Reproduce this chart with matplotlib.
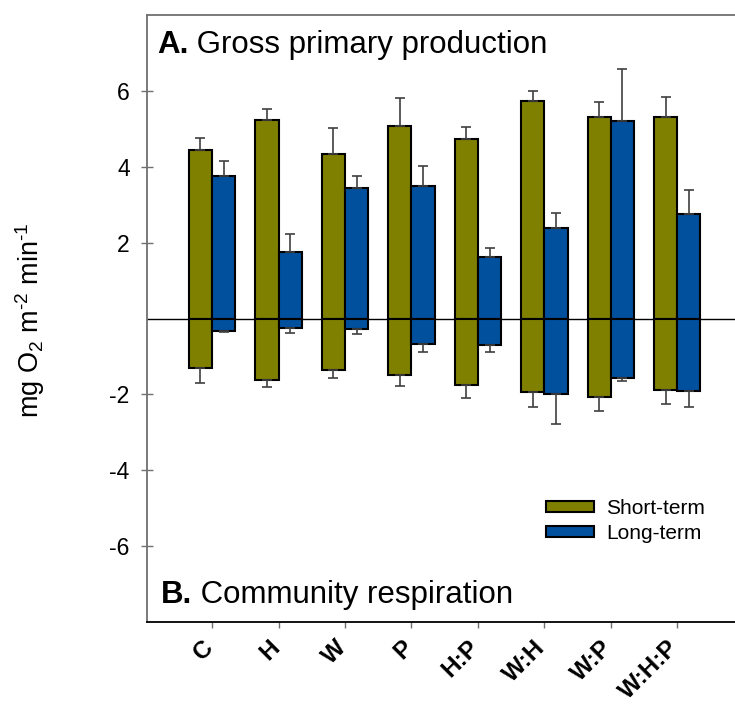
import numpy as np
import matplotlib
matplotlib.use("Agg")
from matplotlib import pyplot as plt
from matplotlib.transforms import ScaledTranslation

plt.rcParams['font.family'] = ['Liberation Sans', 'DejaVu Sans']
plt.rcParams['mathtext.fontset'] = 'custom'
plt.rcParams['mathtext.rm'] = 'Liberation Sans'
plt.rcParams['mathtext.it'] = 'Liberation Sans'
plt.rcParams['mathtext.bf'] = 'Liberation Sans:bold'

# data
categories = ["C", "H", "W", "P", "H:P", "W:H", "W:P", "W:H:P"]
gpp_short = [4.43, 5.22, 4.34, 5.07, 4.73, 5.74, 5.30, 5.32]
gpp_short_se = [0.32, 0.30, 0.68, 0.73, 0.32, 0.26, 0.41, 0.52]
gpp_long = [3.76, 1.74, 3.43, 3.50, 1.62, 2.38, 5.21, 2.75]
gpp_long_se = [0.39, 0.50, 0.33, 0.53, 0.24, 0.39, 1.36, 0.65]
cr_short = [-1.30, -1.63, -1.35, -1.49, -1.76, -1.93, -2.07, -1.88]
cr_short_se = [0.40, 0.17, 0.21, 0.30, 0.34, 0.39, 0.36, 0.38]
cr_long = [-0.32, -0.25, -0.27, -0.67, -0.70, -1.98, -1.56, -1.91]
cr_long_se = [0.04, 0.12, 0.13, 0.21, 0.17, 0.79, 0.10, 0.42]
y_ticks = [-6, -4, -2, 2, 4, 6]

OLIVE = "#808000"
BLUE = "#00509e"
GREY = "#707070"

fig = plt.figure(figsize=(7.35, 7.04), dpi=100)
ax = fig.add_axes([147 / 735, 1 - 622 / 704, 1 - 147 / 735, (622 - 15) / 704])

x = np.arange(len(categories))
w = 0.35
err_kw = dict(ecolor="#404040", elinewidth=1.2, capsize=3.5, capthick=1.2)
bar_kw = dict(width=w, edgecolor="black", linewidth=1.5, zorder=3)

zeros = np.zeros(len(categories))
ax.bar(x - w / 2, gpp_short, color=OLIVE, label="Short-term",
       yerr=[zeros, gpp_short_se], error_kw=err_kw, **bar_kw)
ax.bar(x + w / 2, gpp_long, color=BLUE, label="Long-term",
       yerr=[zeros, gpp_long_se], error_kw=err_kw, **bar_kw)
ax.bar(x - w / 2, cr_short, color=OLIVE,
       yerr=[cr_short_se, zeros], error_kw=err_kw, **bar_kw)
ax.bar(x + w / 2, cr_long, color=BLUE,
       yerr=[cr_long_se, zeros], error_kw=err_kw, **bar_kw)

ax.axhline(0, color="black", lw=1, zorder=2)

ax.set_xlim(-0.98, 7.87)
ax.set_ylim(-8, 8)

ax.set_yticks(y_ticks)
ax.set_yticklabels([str(v) for v in y_ticks], fontsize=16.5)
ax.tick_params(axis="y", direction="inout", length=9, width=1, color=GREY, pad=8)

ax.set_xticks(x)
ax.set_xticklabels(categories, rotation=45, fontsize=17.5, fontweight="bold",
                   ha="right", va="top", rotation_mode="default")
ax.tick_params(axis="x", direction="out", length=4, width=1, color=GREY, pad=6)
# nudge the rotated labels a little to the right, as in the original
shift = ScaledTranslation(4 / 72, 0, fig.dpi_scale_trans)
for lab in ax.get_xticklabels():
    lab.set_transform(lab.get_transform() + shift)

ax.spines["right"].set_visible(False)
ax.spines["left"].set_color(GREY)
ax.spines["top"].set_color(GREY)
ax.spines["left"].set_linewidth(1.3)
ax.spines["top"].set_linewidth(1.3)
ax.spines["bottom"].set_color("black")
ax.spines["bottom"].set_linewidth(1.3)

# panel labels
ta = ax.text(0.017, 0.9374, "A.", transform=ax.transAxes,
             fontsize=22.5, fontweight="bold", va="baseline")
ax.annotate(" Gross primary production", xy=(1, 0), xycoords=ta,
            fontsize=22.5, va="bottom")
tb = ax.text(0.024, 0.0313, "B.", transform=ax.transAxes,
             fontsize=22.5, fontweight="bold", va="baseline")
ax.annotate(" Community respiration", xy=(1, 0), xycoords=tb,
            fontsize=22.5, va="bottom")

fig.text(30 / 735, 1 - 320 / 704, r"mg O$_2$ m$^{\text{-2}}$ min$^{\text{-1}}$",
         rotation=90, ha="center", va="center", fontsize=19.5)

ax.legend(loc="upper left", bbox_to_anchor=(546 / 735, 1 - 499 / 704),
          bbox_transform=fig.transFigure, frameon=False, fontsize=15,
          handlelength=2.3, handleheight=0.45, handletextpad=0.6,
          labelspacing=0.3, borderpad=0, borderaxespad=0)

fig.savefig("out.png", dpi=100)
